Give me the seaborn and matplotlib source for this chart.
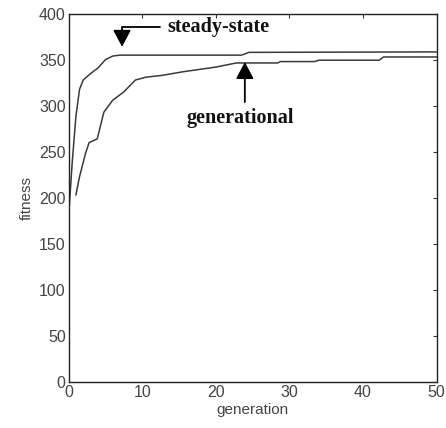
import numpy as np
import pandas as pd
import matplotlib
matplotlib.use("Agg")
import matplotlib.pyplot as plt
import seaborn as sns

# Data
ss_gen = [0, 0.5, 1, 1.5, 2, 3, 4, 5, 6, 7, 23.5, 24.5, 50]
ss_fit = [178, 238, 288, 318, 328, 335, 341, 350, 354, 355, 355, 358, 358.5]

gen_gen = [1, 1.5, 2.3, 2.8, 3.9, 4.8, 6, 7.5, 9.1, 10.5, 12.7, 15.6, 20, 22.8,
           28.4, 28.8, 33.4, 34, 42.2, 42.8, 50]
gen_fit = [203, 223, 248, 260, 264, 293, 306, 315, 328, 331, 333, 337, 342, 346.5,
           346.5, 348, 348, 349.5, 349.5, 353, 353]

x_ticks = [0, 10, 20, 30, 40, 50]
y_ticks = [0, 50, 100, 150, 200, 250, 300, 350, 400]

sns.set_theme(style="white")
plt.rcParams['font.family'] = ['Liberation Sans', 'DejaVu Sans']

df = pd.concat([
    pd.DataFrame({"generation": ss_gen, "fitness": ss_fit, "method": "steady-state"}),
    pd.DataFrame({"generation": gen_gen, "fitness": gen_fit, "method": "generational"}),
])

fig = plt.figure(figsize=(4.46, 4.28), dpi=100)
ax = fig.add_axes([0.1536, 0.1075, 0.8254, 0.8605])
sns.lineplot(data=df, x="generation", y="fitness", hue="method",
             palette={"steady-state": "#3a3a3a", "generational": "#3a3a3a"},
             linewidth=1.1, legend=False, ax=ax, sort=False, estimator=None)

ax.set_xlim(0, 50)
ax.set_ylim(0, 400)
ax.set_xticks(x_ticks)
ax.set_yticks(y_ticks)
ax.tick_params(direction="in", length=3, width=0.8, top=True, right=True,
               labelsize=11.5, labelcolor="#444444", color="#333333", pad=2)
for s in ax.spines.values():
    s.set_color("#222222")
    s.set_linewidth(1.0)
ax.set_xlabel("generation", fontsize=11, color="#444444", labelpad=2)
ax.set_ylabel("fitness", fontsize=11, color="#444444", labelpad=4)

serif = ['Liberation Serif', 'DejaVu Serif']
ax.annotate("", xy=(7.27, 364), xytext=(12.4, 385.8),
            arrowprops=dict(arrowstyle="-|>,head_length=0.85,head_width=0.45",
                            connectionstyle="angle,angleA=0,angleB=90,rad=0",
                            color="black", lw=1.3, shrinkA=0, shrinkB=0))
ax.text(13.4, 385.8, "steady-state", fontsize=14.5, fontweight="bold",
        family=serif, va="center", ha="left", color="#111111")

ax.annotate("", xy=(23.95, 347.5), xytext=(23.95, 304),
            arrowprops=dict(arrowstyle="-|>,head_length=0.85,head_width=0.45",
                            color="black", lw=1.3, shrinkA=0, shrinkB=0))
ax.text(23.3, 287, "generational", fontsize=14.5, fontweight="bold",
        family=serif, va="center", ha="center", color="#111111")

fig.savefig("out.png", dpi=100)
